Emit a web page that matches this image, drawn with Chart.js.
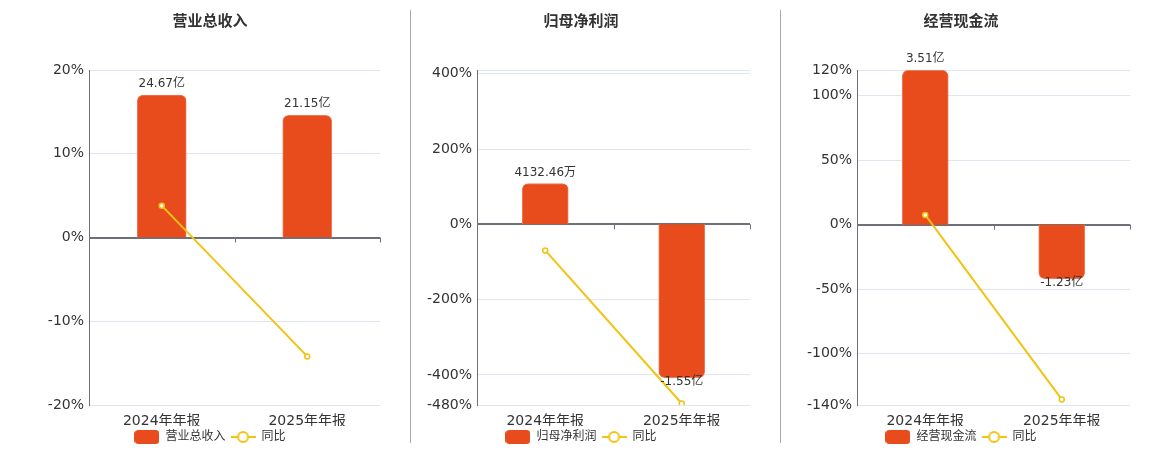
<!DOCTYPE html>
<html lang="zh">

<head>
  <meta charset="UTF-8">
  <title>财务概览</title>
  <script src="https://cdn.jsdelivr.net/npm/chart.js"></script>
  <style>
    body { margin: 0; background: #fff; }
    .box { position: absolute; top: 0; height: 450px; }
    .sep { position: absolute; top: 10px; height: 433px; width: 1px; background: #a8a8a8; }
  </style>
</head>

<body>
  <div class="box" style="left:0;width:410px"><canvas id="c1"></canvas></div>
  <div class="sep" style="left:410px"></div>
  <div class="box" style="left:411px;width:369px"><canvas id="c2"></canvas></div>
  <div class="sep" style="left:780px"></div>
  <div class="box" style="left:782px;width:378px"><canvas id="c3"></canvas></div>
  <script>
    // 数据 (金额单位: 亿元, 同比单位: %)
    const categories = ['2024年年报', '2025年年报'];

    const revenueValues = [24.67, 21.15];
    const revenueYoY = [3.8, -14.2];
    const revenueTicks = [20, 10, 0, -10, -20];
    const revenueRange = [-20, 20];
    const revenueBarRange = [-29.0, 29.0];

    const profitValues = [0.413246, -1.55];
    const profitYoY = [-69.3, -476];
    const profitTicks = [400, 200, 0, -200, -400, -480];
    const profitRange = [-480, 410];
    const profitBarRange = [-1.826, 1.560];

    const cashValues = [3.51, -1.23];
    const cashYoY = [7.5, -135.7];
    const cashTicks = [120, 100, 50, 0, -50, -100, -140];
    const cashRange = [-140, 120];
    const cashBarRange = [-4.10, 3.516];

    const FONT = '"DejaVu Sans", "Noto Sans CJK SC", sans-serif';
    const BAR_COLOR = '#e84b1c';
    const LINE_COLOR = '#f2c312';

    function fmtMoney(v) {
      if (Math.abs(v) >= 1) return v.toFixed(2) + '亿';
      return (v * 10000).toFixed(2) + '万';
    }

    // 图例图标
    function barIcon() {
      const c = document.createElement('canvas');
      c.width = 25; c.height = 14;
      const g = c.getContext('2d');
      g.fillStyle = BAR_COLOR;
      g.beginPath();
      g.roundRect(0, 0, 25, 14, 4);
      g.fill();
      return c;
    }
    function lineIcon() {
      const c = document.createElement('canvas');
      c.width = 25; c.height = 14;
      const g = c.getContext('2d');
      g.strokeStyle = LINE_COLOR;
      g.lineWidth = 2;
      g.beginPath(); g.moveTo(0, 7); g.lineTo(25, 7); g.stroke();
      g.fillStyle = '#fff';
      g.beginPath(); g.arc(12.5, 7, 5, 0, Math.PI * 2); g.fill(); g.stroke();
      return c;
    }
    const legendIcons = [barIcon(), lineIcon()];

    // 柱子数值标签 + 零轴刻度
    const barLabels = {
      id: 'barLabels',
      afterDatasetsDraw(chart) {
        const ctx = chart.ctx;
        const meta = chart.getDatasetMeta(0);
        const data = chart.data.datasets[0].data;
        ctx.save();
        ctx.font = '12px ' + FONT;
        ctx.fillStyle = '#333';
        ctx.textAlign = 'center';
        ctx.textBaseline = 'middle';
        meta.data.forEach((el, i) => {
          const v = data[i];
          ctx.fillText(fmtMoney(v), el.x, v >= 0 ? el.y - 11 : el.y + 4);
        });
        // 零轴上的刻度
        const xs = chart.scales.x;
        const y0 = chart.scales.y.getPixelForValue(0);
        const n = chart.data.labels.length;
        ctx.strokeStyle = '#6e7079';
        ctx.lineWidth = 1;
        for (let i = 1; i <= n; i++) {
          const x = Math.round(xs.left + (xs.right - xs.left) * i / n) + 0.5;
          ctx.beginPath(); ctx.moveTo(x, y0); ctx.lineTo(x, y0 + 5); ctx.stroke();
        }
        ctx.restore();
      }
    };

    function makeChart(id, title, values, yoy, ticks, range, barRange, opts) {
      const ctx = document.getElementById(id).getContext('2d');
      const tickValues = ticks.includes(range[1]) ? ticks : ticks.concat([range[1]]);
      return new Chart(ctx, {
        type: 'bar',
        data: {
          labels: categories,
          datasets: [{
            type: 'bar',
            label: title,
            data: values,
            yAxisID: 'y1',
            backgroundColor: BAR_COLOR,
            borderColor: '#f07a55',
            borderWidth: 1,
            borderRadius: 6,
            barThickness: opts.barWidth,
            order: 1
          }, {
            type: 'line',
            label: '同比',
            data: yoy,
            yAxisID: 'y',
            borderColor: LINE_COLOR,
            borderWidth: 2,
            pointRadius: 2.5,
            pointBorderWidth: 1.5,
            pointBackgroundColor: '#fff',
            pointBorderColor: LINE_COLOR,
            order: 0
          }]
        },
        options: {
          responsive: true,
          maintainAspectRatio: false,
          animation: false,
          layout: { padding: { left: opts.padLeft, right: 30, top: 0, bottom: -3 } },
          plugins: {
            title: {
              display: true,
              text: title,
              color: '#333',
              font: { family: FONT, size: 15, weight: 'bold' },
              padding: { top: 13, bottom: 39 }
            },
            legend: {
              position: 'bottom',
              labels: {
                usePointStyle: true,
                pointStyleWidth: 25,
                boxHeight: 14,
                padding: 5,
                color: '#333',
                font: { family: FONT, size: 12 },
                generateLabels: chart => Chart.defaults.plugins.legend.labels.generateLabels(chart)
                  .map(item => Object.assign(item, { pointStyle: legendIcons[item.datasetIndex] })),
                sort: (a, b) => a.datasetIndex - b.datasetIndex
              }
            },
            tooltip: { enabled: false }
          },
          scales: {
            x: {
              grid: { display: false, drawTicks: false },
              border: { display: false },
              ticks: { color: '#333', font: { family: FONT, size: 14 }, padding: 8 },
              afterFit: s => { s.height = 21; }
            },
            y: {
              position: 'left',
              min: range[0],
              max: range[1],
              afterBuildTicks: s => { s.ticks = tickValues.map(v => ({ value: v })); },
              afterFit: s => { s.width = opts.axisWidth; },
              ticks: {
                color: '#333',
                font: { family: FONT, size: 14 },
                padding: 5,
                callback: v => ticks.includes(v) ? v + '%' : ''
              },
              grid: {
                drawTicks: false,
                color: c => c.tick && c.tick.value === 0 ? '#6e7079' : '#e0e6f1',
                lineWidth: c => c.tick && c.tick.value === 0 ? 2 : 1
              },
              border: { color: '#6e7079', width: 1 }
            },
            y1: {
              position: 'right',
              display: false,
              min: barRange[0],
              max: barRange[1]
            }
          }
        },
        plugins: [barLabels]
      });
    }

    makeChart('c1', '营业总收入', revenueValues, revenueYoY, revenueTicks, revenueRange, revenueBarRange,
      { padLeft: 40, axisWidth: 49, barWidth: 49 });
    makeChart('c2', '归母净利润', profitValues, profitYoY, profitTicks, profitRange, profitBarRange,
      { padLeft: 1, axisWidth: 65, barWidth: 46 });
    makeChart('c3', '经营现金流', cashValues, cashYoY, cashTicks, cashRange, cashBarRange,
      { padLeft: 10, axisWidth: 65, barWidth: 46 });
  </script>
</body>

</html>
